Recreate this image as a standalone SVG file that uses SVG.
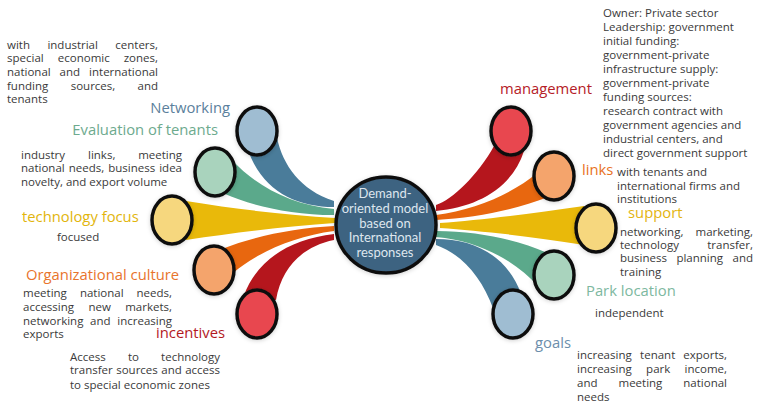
<svg xmlns="http://www.w3.org/2000/svg" width="757" height="404" viewBox="0 0 757 404">
<style>
.body{font-family:"Open Sans","DejaVu Sans",sans-serif;font-size:11.5px;fill:#3a3a3a}
.lbl{font-family:"Open Sans","DejaVu Sans",sans-serif;font-size:14.8px}
.ctr{font-family:"Lato","DejaVu Sans",sans-serif;font-size:13px;fill:#dde6ee;text-anchor:middle}
.c{stroke:#111;stroke-width:3.5;filter:url(#sh)}
.e{text-anchor:end}
</style>
<defs>
<filter id="sh" x="-30%" y="-30%" width="160%" height="160%">
<feDropShadow dx="0" dy="1" stdDeviation="2" flood-color="#000" flood-opacity="0.18"/>
</filter>
</defs>
<rect width="757" height="404" fill="#ffffff"/>
<g id="connectors">
<path d="M 277,138 C 283,165 300,190 334,201 L 334,207 C 295,207 262,190 248,150 Z" fill="#4a7c9a"/>
<path d="M 232,160 C 255,185 290,205 334,209 L 334,215 C 290,215 250,205 225,194 Z" fill="#5ba98b"/>
<path d="M 186,201 C 240,210 290,215 335,218 L 335,223 C 290,226 240,232 186,240 Z" fill="#e9b90a"/>
<path d="M 222,249 C 255,236 295,228 334,226 L 334,231 C 295,236 258,252 233,273 Z" fill="#e8670f"/>
<path d="M 244,295 C 258,258 292,239 334,234 L 334,240 C 305,246 282,265 276,300 Z" fill="#b5161d"/>
<path d="M 524,151 C 512,188 478,207 436,211 L 436,205 C 452,200 478,175 494,146 Z" fill="#b5161d"/>
<path d="M 548,197 C 515,210 475,218 436,220 L 436,215 C 475,210 512,194 537,173 Z" fill="#e8670f"/>
<path d="M 584,245 C 530,236 480,231 440,228 L 440,223 C 480,220 530,214 584,206 Z" fill="#e9b90a"/>
<path d="M 538,286 C 515,261 480,241 436,237 L 436,231 C 480,231 520,241 545,252 Z" fill="#5ba98b"/>
<path d="M 493,308 C 482,278 462,254 436,245 L 436,239 C 475,239 508,256 522,296 Z" fill="#4a7c9a"/>
</g>
<g id="center">
<ellipse class="c" cx="386" cy="225" rx="50" ry="48" fill="#3d6381"/>
<text class="ctr" x="385" y="198">Demand-</text>
<text class="ctr" x="385" y="213">oriented model</text>
<text class="ctr" x="385" y="228">based on</text>
<text class="ctr" x="385" y="242">International</text>
<text class="ctr" x="385" y="257">responses</text>
</g>
<g id="networking">
<ellipse class="c" cx="257" cy="131" rx="20" ry="24" fill="#9fbdd2"/>
<text class="lbl e" x="230" y="113" fill="#5b7f9c">Networking</text>
<text class="body" y="49"><tspan x="7">with</tspan><tspan x="47.4">industrial</tspan><tspan x="158" class="e">centers,</tspan></text>
<text class="body" y="62"><tspan x="7">special</tspan><tspan x="57.8">economic</tspan><tspan x="158" class="e">zones,</tspan></text>
<text class="body" y="76"><tspan x="7">national</tspan><tspan x="59.6">and</tspan><tspan x="158" class="e">international</tspan></text>
<text class="body" y="90"><tspan x="7">funding</tspan><tspan x="70.7">sources,</tspan><tspan x="158" class="e">and</tspan></text>
<text class="body" x="7" y="103">tenants</text>
</g>
<g id="evaluation">
<ellipse class="c" cx="215" cy="172" rx="20" ry="24" fill="#a9d3bd"/>
<text class="lbl e" x="218" y="135" fill="#6daa8e">Evaluation of tenants</text>
<text class="body" y="159"><tspan x="21">industry</tspan><tspan x="88">links,</tspan><tspan x="182" class="e">meeting</tspan></text>
<text class="body" y="172"><tspan x="21">national</tspan><tspan x="68.7">needs,</tspan><tspan x="108.2">business</tspan><tspan x="182" class="e">idea</tspan></text>
<text class="body" x="21" y="186">novelty, and export volume</text>
</g>
<g id="technology">
<ellipse class="c" cx="172" cy="220" rx="20" ry="24" fill="#f6d77e"/>
<text class="lbl" x="22" y="222" fill="#e2b50c">technology focus</text>
<text class="body" x="57" y="241">focused</text>
</g>
<g id="culture">
<ellipse class="c" cx="214" cy="270" rx="20" ry="24" fill="#f4a46c"/>
<text class="lbl" x="26" y="280" fill="#e8742c">Organizational culture</text>
<text class="body" y="297"><tspan x="23">meeting</tspan><tspan x="79.9">national</tspan><tspan x="172" class="e">needs,</tspan></text>
<text class="body" y="311"><tspan x="23">accessing</tspan><tspan x="88.5">new</tspan><tspan x="172" class="e">markets,</tspan></text>
<text class="body" y="325"><tspan x="23">networking</tspan><tspan x="90.1">and</tspan><tspan x="172" class="e">increasing</tspan></text>
<text class="body" x="23" y="338">exports</text>
</g>
<g id="incentives">
<ellipse class="c" cx="257" cy="314" rx="20" ry="24" fill="#e8474f"/>
<text class="lbl" x="156" y="338" fill="#b3191f">incentives</text>
<text class="body" y="361"><tspan x="70">Access</tspan><tspan x="127.9">to</tspan><tspan x="220" class="e">technology</tspan></text>
<text class="body" y="374"><tspan x="70">transfer</tspan><tspan x="116.2">sources</tspan><tspan x="161.3">and</tspan><tspan x="220" class="e">access</tspan></text>
<text class="body" x="70" y="389">to special economic zones</text>
</g>
<g id="management">
<ellipse class="c" cx="511" cy="131" rx="20" ry="24" fill="#e8474f"/>
<text class="lbl" x="500" y="94" fill="#b52027">management</text>
<text class="body" x="603" y="17">Owner: Private sector</text>
<text class="body" x="603" y="31">Leadership: government</text>
<text class="body" x="603" y="45">initial funding:</text>
<text class="body" x="603" y="59">government-private</text>
<text class="body" x="603" y="73">infrastructure supply:</text>
<text class="body" x="603" y="87">government-private</text>
<text class="body" x="603" y="101">funding sources:</text>
<text class="body" x="603" y="115">research contract with</text>
<text class="body" x="603" y="129">government agencies and</text>
<text class="body" x="603" y="143">industrial centers, and</text>
<text class="body" x="603" y="157">direct government support</text>
</g>
<g id="links">
<ellipse class="c" cx="554" cy="176" rx="20" ry="24" fill="#f4a46c"/>
<text class="lbl" x="582" y="175" fill="#e8721e">links</text>
<text class="body" x="617" y="176">with tenants and</text>
<text class="body" x="617" y="190">international firms and</text>
<text class="body" x="617" y="203">institutions</text>
</g>
<g id="support">
<ellipse class="c" cx="596" cy="228" rx="20" ry="24" fill="#f6d77e"/>
<text class="lbl" x="628" y="218" fill="#e3b40f">support</text>
<text class="body" y="236"><tspan x="620">networking,</tspan><tspan x="753" class="e">marketing,</tspan></text>
<text class="body" y="249"><tspan x="620">technology</tspan><tspan x="753" class="e">transfer,</tspan></text>
<text class="body" y="262"><tspan x="620">business</tspan><tspan x="676.4">planning</tspan><tspan x="753" class="e">and</tspan></text>
<text class="body" x="620" y="276">training</text>
</g>
<g id="park">
<ellipse class="c" cx="554" cy="275" rx="20" ry="24" fill="#a9d3bd"/>
<text class="lbl" x="586" y="296" fill="#7db8a0">Park location</text>
<text class="body" x="595" y="317">independent</text>
</g>
<g id="goals">
<ellipse class="c" cx="513" cy="314" rx="20" ry="24" fill="#9fbdd2"/>
<text class="lbl" x="535" y="348" fill="#6c8eab">goals</text>
<text class="body" y="359"><tspan x="577">increasing</tspan><tspan x="640.1">tenant</tspan><tspan x="727" class="e">exports,</tspan></text>
<text class="body" y="373"><tspan x="577">increasing</tspan><tspan x="646.1">park</tspan><tspan x="727" class="e">income,</tspan></text>
<text class="body" y="387"><tspan x="577">and</tspan><tspan x="618.5">meeting</tspan><tspan x="727" class="e">national</tspan></text>
<text class="body" x="577" y="401">needs</text>
</g>
</svg>
